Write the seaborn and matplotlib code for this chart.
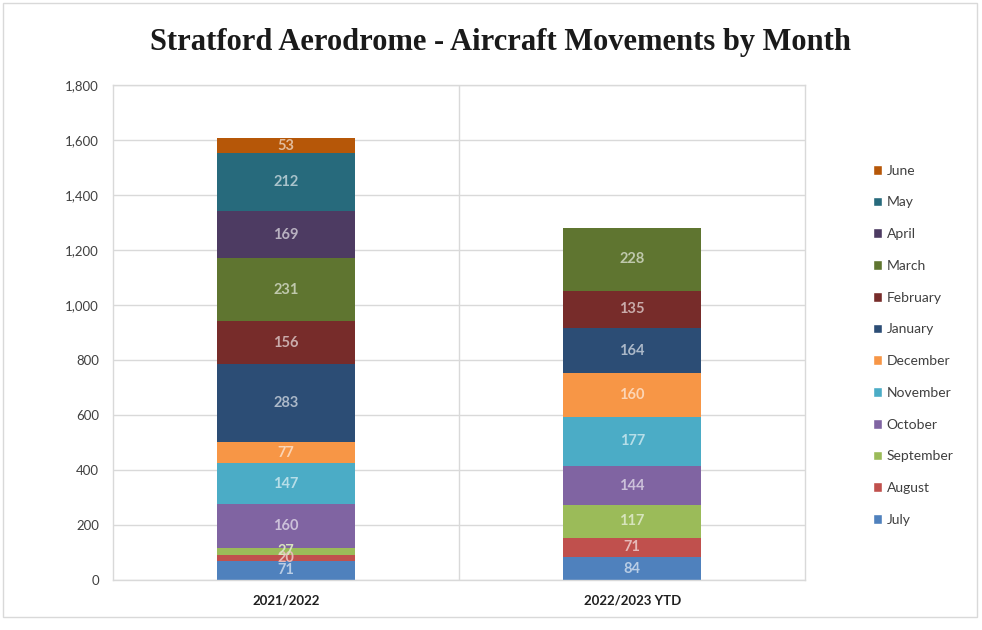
import numpy as np
import pandas as pd
import seaborn as sns
import matplotlib.pyplot as plt
import matplotlib.colors as mcolors
from matplotlib.patches import Patch, Rectangle

seasons = ["2021/2022", "2022/2023 YTD"]
months = ["July", "August", "September", "October", "November", "December",
          "January", "February", "March", "April", "May", "June"]
movements_2122 = [71, 20, 27, 160, 147, 77, 283, 156, 231, 169, 212, 53]
movements_2223 = [84, 71, 117, 144, 177, 160, 164, 135, 228, 0, 0, 0]
month_colors = ["#4F81BD", "#C0504D", "#9BBB59", "#8064A2", "#4BACC6", "#F79646",
                "#2C4D75", "#772C2A", "#5F7530", "#4D3B62", "#276A7C", "#B65708"]

df = pd.DataFrame({
    "season": np.repeat(seasons, len(months)),
    "month": months * 2,
    "value": movements_2122 + movements_2223,
})

sns.set_theme(style="white")
plt.rcParams["font.family"] = ["Lato", "DejaVu Sans"]

fig = plt.figure(figsize=(9.82, 6.3), dpi=100)
ax = fig.add_axes([0.115, 0.079, 0.705, 0.786])


def lighten(c, amt=0.6):
    r, g, b = mcolors.to_rgb(c)
    return (r + (1 - r) * amt, g + (1 - g) * amt, b + (1 - b) * amt)


bottom = np.zeros(len(seasons))
handles = []
for month, col in zip(months, month_colors):
    sub = df[df["month"] == month].set_index("season").loc[seasons].reset_index()
    vals = sub["value"].to_numpy(dtype=float)
    sns.barplot(data=sub, x="season", y="value", order=seasons, color=col,
                saturation=1, width=0.4, errorbar=None, bottom=bottom,
                linewidth=0, ax=ax)
    labels = [f"{int(v)}" if v > 0 else "" for v in vals]
    ax.bar_label(ax.containers[-1], labels=labels, label_type="center",
                 color=lighten(col), fontsize=10.5, fontweight="bold")
    bottom = bottom + vals
    handles.append(Patch(facecolor=col, label=month))

ax.set_ylim(0, 1800)
ax.set_xlim(-0.5, 1.5)
ax.set_yticks(range(0, 1801, 200))
ax.set_yticklabels([f"{t:,}" for t in range(0, 1801, 200)])
ax.yaxis.grid(True, color="#D9D9D9", linewidth=1)
ax.set_axisbelow(True)
ax.axvline(0.5, color="#D9D9D9", linewidth=1, zorder=0)
for s in ax.spines.values():
    s.set_color("#D9D9D9")
    s.set_linewidth(1)
ax.set_xlabel("")
ax.set_ylabel("")
ax.tick_params(axis="y", labelsize=9.5, labelcolor="#404040", length=0, pad=10)
ax.tick_params(axis="x", labelsize=9.5, labelcolor="#202020", length=0, pad=10)
for t in ax.get_xticklabels():
    t.set_fontweight("bold")

leg = fig.legend(handles=handles[::-1], loc="center left",
                 bbox_to_anchor=(0.876, 0.452), frameon=False,
                 fontsize=10, handlelength=0.7, handleheight=0.7,
                 handletextpad=0.3, labelspacing=1.42,
                 labelcolor="#404040")

fig.suptitle("Stratford Aerodrome - Aircraft Movements by Month",
             x=0.51, y=0.955, fontsize=22, fontweight="bold",
             family=["Liberation Serif", "DejaVu Serif"], color="#1a1a1a")

fig.patches.append(Rectangle((0.003, 0.02), 0.992, 0.975, transform=fig.transFigure,
                             fill=False, edgecolor="#D9D9D9", linewidth=1))

fig.savefig("out.png", dpi=100)
